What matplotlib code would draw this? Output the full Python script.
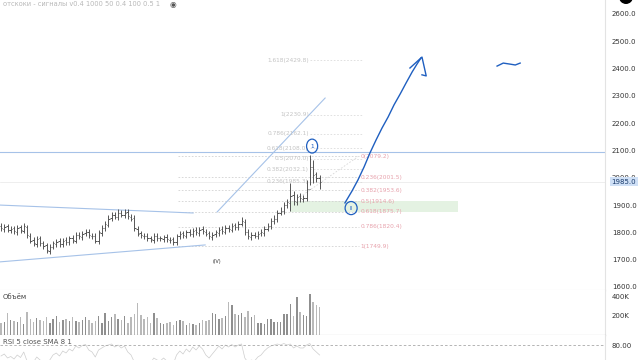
import matplotlib
matplotlib.use('Agg')
import matplotlib.pyplot as plt
import matplotlib.patches as mpatches
import numpy as np

# --- OHLC (bar index = position) ---
OPENS = [1825, 1812, 1822, 1808, 1815, 1802, 1818, 1806, 1820, 1788,
         1772, 1758, 1778, 1762, 1752, 1733, 1748, 1758, 1768, 1756,
         1772, 1763, 1780, 1770, 1792, 1783, 1797, 1802, 1788, 1787,
         1768, 1798, 1817, 1828, 1852, 1864, 1856, 1872, 1863, 1874,
         1858, 1852, 1813, 1797, 1788, 1787, 1778, 1773, 1787, 1778,
         1776, 1784, 1773, 1774, 1763, 1787, 1797, 1788, 1802, 1793,
         1807, 1798, 1812, 1803, 1797, 1783, 1794, 1798, 1812, 1803,
         1817, 1810, 1827, 1818, 1832, 1838, 1802, 1783, 1792, 1786,
         1797, 1798, 1814, 1823, 1842, 1848, 1872, 1878, 1902, 1908,
         1937, 1913, 1932, 1923, 1927, 1958, 2038, 2012, 1998]
HIGHS = [1835, 1830, 1832, 1822, 1824, 1826, 1828, 1834, 1828, 1798,
         1782, 1786, 1788, 1770, 1760, 1756, 1770, 1776, 1778, 1780,
         1782, 1788, 1790, 1800, 1802, 1806, 1812, 1812, 1798, 1796,
         1810, 1826, 1840, 1862, 1874, 1876, 1884, 1882, 1884, 1884,
         1868, 1862, 1824, 1806, 1798, 1796, 1788, 1796, 1796, 1788,
         1792, 1794, 1784, 1784, 1794, 1806, 1806, 1810, 1812, 1816,
         1818, 1820, 1822, 1812, 1806, 1802, 1810, 1820, 1822, 1826,
         1828, 1836, 1836, 1842, 1855, 1848, 1812, 1800, 1802, 1806,
         1812, 1822, 1836, 1852, 1862, 1882, 1892, 1912, 1922, 1980,
         1950, 1942, 1944, 1936, 1990, 2085, 2065, 2020, 2010]
LOWS = [1805, 1802, 1800, 1798, 1795, 1792, 1798, 1796, 1778, 1760,
        1750, 1748, 1750, 1738, 1725, 1722, 1738, 1748, 1748, 1746,
        1755, 1753, 1762, 1760, 1775, 1773, 1786, 1780, 1775, 1760,
        1758, 1788, 1806, 1818, 1842, 1848, 1846, 1855, 1853, 1850,
        1840, 1805, 1785, 1780, 1775, 1770, 1765, 1762, 1770, 1768,
        1766, 1765, 1762, 1755, 1752, 1777, 1780, 1778, 1785, 1783,
        1790, 1788, 1795, 1785, 1775, 1773, 1784, 1788, 1795, 1793,
        1802, 1800, 1810, 1808, 1822, 1790, 1775, 1773, 1778, 1776,
        1787, 1788, 1804, 1813, 1832, 1838, 1862, 1868, 1890, 1880,
        1900, 1902, 1912, 1910, 1915, 1975, 1980, 1985, 1960]
CLOSES = [1815, 1820, 1810, 1812, 1805, 1815, 1808, 1822, 1790, 1770,
          1760, 1775, 1760, 1750, 1735, 1745, 1760, 1765, 1758, 1770,
          1765, 1778, 1772, 1790, 1785, 1795, 1800, 1790, 1785, 1770,
          1800, 1815, 1830, 1850, 1862, 1858, 1870, 1865, 1872, 1860,
          1850, 1815, 1795, 1790, 1785, 1780, 1775, 1785, 1780, 1778,
          1782, 1775, 1772, 1765, 1785, 1795, 1790, 1800, 1795, 1805,
          1800, 1810, 1805, 1795, 1785, 1792, 1800, 1810, 1805, 1815,
          1812, 1825, 1820, 1830, 1840, 1800, 1785, 1790, 1788, 1795,
          1800, 1812, 1825, 1840, 1850, 1870, 1880, 1900, 1910, 1935,
          1915, 1930, 1925, 1925, 1960, 2040, 2010, 2000, 1985]

# volume, thousands
VOLUME_K = [125, 135, 230, 160, 150, 135, 190, 115, 240, 170,
            135, 180, 160, 150, 190, 125, 170, 200, 135, 160,
            170, 150, 190, 150, 135, 160, 190, 160, 125, 150,
            200, 125, 230, 150, 190, 220, 170, 160, 200, 125,
            190, 220, 330, 210, 170, 190, 125, 230, 180, 125,
            115, 125, 135, 105, 145, 155, 145, 105, 125, 115,
            105, 125, 155, 150, 155, 230, 220, 170, 180, 200,
            345, 310, 220, 210, 230, 190, 250, 190, 210, 125,
            125, 115, 170, 170, 135, 135, 135, 220, 220, 320,
            200, 400, 240, 210, 200, 430, 345, 310, 290]

RSI = [58, 62, 54, 57, 52, 60, 55, 66, 48, 44,
       46, 56, 50, 47, 42, 50, 60, 64, 58, 68,
       64, 72, 68, 78, 74, 79, 81, 70, 66, 56,
       70, 74, 78, 80, 82, 76, 80, 74, 78, 66,
       60, 46, 40, 42, 44, 46, 44, 54, 50, 48,
       54, 48, 46, 42, 60, 68, 62, 72, 66, 76,
       70, 78, 72, 60, 54, 62, 70, 78, 72, 80,
       76, 81, 76, 80, 82, 54, 45, 50, 48, 56,
       60, 68, 74, 78, 80, 82, 80, 83, 80, 82,
       74, 78, 74, 74, 80, 83, 72, 66, 60]

PRICE_TICKS = [1600, 1700, 1800, 1900, 2000, 2100, 2200, 2300, 2400, 2500, 2600]
LAST_PRICE = 1985.0
BLUE_LEVEL = 2094

# fibonacci: extension (grey) and retracement (pink)
FIB_EXT_RATIOS = ['1.618', '1', '0.786', '0.618', '0.5', '0.382', '0.236']
FIB_EXT_PRICES = [2429.8, 2230.9, 2162.1, 2108.0, 2070.0, 2032.1, 1985.3]
FIB_RET_RATIOS = ['0', '0.236', '0.382', '0.5', '0.618', '0.786', '1']
FIB_RET_PRICES = [2079.2, 2001.5, 1953.6, 1914.6, 1875.7, 1820.4, 1749.9]

# drawings, (bar, price)
TREND_UPPER = [(-0.3, 1900), (59.1, 1871)]
TREND_LOWER = [(-0.3, 1692), (62.8, 1754)]
TREND_DIAG = [(66.5, 1875), (99.7, 2292)]
FIB_DIAG = [(92, 1930), (110, 2079)]
ARROW_PATH = [(105.8, 1908), (108.0, 1952), (109.8, 1992), (111.7, 2040),
              (113.5, 2091), (115.4, 2139), (117.2, 2182), (119.1, 2223),
              (120.9, 2267), (122.8, 2307), (124.6, 2347), (126.5, 2388),
              (128.0, 2417), (129.2, 2439)]
ARROW_HEAD = [(125.8, 2402), (129.5, 2442), (130.8, 2373), (129.5, 2377)]
SQUIGGLE = [(152.6, 2409), (154.5, 2420), (156.7, 2416), (158.2, 2413), (159.7, 2420)]

BAR_C = '#555555'
DRAW_BLUE = '#1f5fc0'
LINE_BLUE = '#a6c2e8'

W, H = 640, 360
fig = plt.figure(figsize=(6.4, 3.6), dpi=100, facecolor='white')
ax_p = fig.add_axes([0, 70 / H, 605 / W, 290 / H])
ax_v = fig.add_axes([0, 25 / H, 605 / W, 45 / H])
ax_r = fig.add_axes([0, 0, 605 / W, 25 / H])

n = len(CLOSES)
x = np.arange(n)
XLIM = (-0.31, 185.8)

for ax in (ax_p, ax_v, ax_r):
    ax.set_xlim(*XLIM)
    ax.set_xticks([])
    ax.yaxis.tick_right()
    ax.tick_params(axis='y', length=0, pad=5, labelsize=5.0, labelcolor='#333333')
    for s in ('left', 'top'):
        ax.spines[s].set_visible(False)
    ax.spines['right'].set_color('#e3e3e3')
    ax.spines['right'].set_linewidth(0.8)
    ax.spines['bottom'].set_color('#e3e3e3')
    ax.spines['bottom'].set_linewidth(0.8)
ax_v.spines['bottom'].set_color('#9a9a9a')
ax_r.spines['bottom'].set_visible(False)

# ─── price panel ──────────────────────────────
ax_p.set_ylim(1589, 2651)
ax_p.set_yticks(PRICE_TICKS)
ax_p.set_yticklabels([f'{t:.1f}' for t in PRICE_TICKS])

ax_p.axhline(BLUE_LEVEL, color=LINE_BLUE, lw=0.8, zorder=2)
ax_p.axhline(LAST_PRICE, color='#e8e8e8', lw=0.5, zorder=1)

# fib retracement
ret_x0, ret_x1 = 54.5, 110.0
ax_p.hlines(FIB_RET_PRICES, ret_x0, ret_x1, colors='#d2d2d2', lw=0.6,
            linestyles=(0, (2, 2)), zorder=1)
for r, p in zip(FIB_RET_RATIOS, FIB_RET_PRICES):
    ax_p.text(ret_x1 + 0.6, p, f'{r}({p:.1f})', fontsize=4.2, color='#e7a2ac',
              va='center', ha='left', zorder=3)
ax_p.add_patch(mpatches.Rectangle((89, FIB_RET_PRICES[4]), 51.6,
                                  FIB_RET_PRICES[3] - FIB_RET_PRICES[4],
                                  facecolor='#e4f2e2', edgecolor='none', zorder=0))

# fib extension
ext_x0, ext_x1 = 95.0, 111.0
ax_p.hlines(FIB_EXT_PRICES, ext_x0, ext_x1, colors='#dcdcdc', lw=0.6,
            linestyles=(0, (2, 2)), zorder=1)
for r, p in zip(FIB_EXT_RATIOS, FIB_EXT_PRICES):
    ax_p.text(ext_x0 - 0.3, p, f'{r}({p:.1f})', fontsize=4.2, color='#c4c4c4',
              va='center', ha='right', zorder=3)

# trend lines
for line in (TREND_UPPER, TREND_LOWER, TREND_DIAG):
    (xa, ya), (xb, yb) = line
    ax_p.plot([xa, xb], [ya, yb], color=LINE_BLUE, lw=0.8, zorder=2)
(xa, ya), (xb, yb) = FIB_DIAG
ax_p.plot([xa, xb], [ya, yb], color='#d8d8d8', lw=0.6, ls=(0, (2, 2)), zorder=1)

# OHLC bars
ax_p.vlines(x, LOWS, HIGHS, color=BAR_C, lw=0.7, zorder=4)
ax_p.hlines(OPENS, x - 0.4, x, color=BAR_C, lw=0.7, zorder=4)
ax_p.hlines(CLOSES, x, x + 0.4, color=BAR_C, lw=0.7, zorder=4)

ax_p.text(66.5, 1695, '(IV)', fontsize=3.6, color='#333333', ha='center', va='center')

# hand drawings
ax_p.plot(*zip(*ARROW_PATH), color=DRAW_BLUE, lw=1.0, zorder=6)
ax_p.plot(*zip(*ARROW_HEAD), color=DRAW_BLUE, lw=1.0, zorder=6)
ax_p.plot(*zip(*SQUIGGLE), color=DRAW_BLUE, lw=1.0, zorder=6)
ax_p.add_patch(mpatches.Ellipse((95.7, 2116), 3.4, 51, fill=False,
                                edgecolor=DRAW_BLUE, lw=0.9, zorder=6))
ax_p.text(95.7, 2116, '1', fontsize=4.2, color=DRAW_BLUE, ha='center', va='center', zorder=6)
ax_p.add_patch(mpatches.Ellipse((107.7, 1889), 3.7, 48, fill=False,
                                edgecolor=DRAW_BLUE, lw=0.9, zorder=6))
ax_p.text(107.7, 1889, 'II', fontsize=3.6, color=DRAW_BLUE, ha='center', va='center', zorder=6)

# last price badge
ax_p.text(1.011, LAST_PRICE, f'{LAST_PRICE:.1f}', transform=ax_p.get_yaxis_transform(),
          fontsize=5.0, color='#1a3b6b', ha='left', va='center', zorder=10, clip_on=False,
          bbox=dict(boxstyle='square,pad=0.2', facecolor='#cfe0f6', edgecolor='none'))

# ─── volume panel ─────────────────────────────
up = [c >= o for o, c in zip(OPENS, CLOSES)]
vol = np.array(VOLUME_K) * 1000
ax_v.bar(x, vol, width=0.45, color=['#8f8f8f' if u else '#b9b9b9' for u in up], zorder=2)
ax_v.set_ylim(0, 470000)
ax_v.set_yticks([200000, 400000])
ax_v.set_yticklabels(['200K', '400K'])
ax_v.text(0.005, 0.84, 'Объём', transform=ax_v.transAxes, fontsize=5,
          color='#444444', va='center')

# ─── RSI panel ────────────────────────────────
ax_r.set_ylim(50, 100)
ax_r.plot(x, RSI, color='#cdcdcd', lw=0.5)
ax_r.axhline(80, color='#a8a8a8', lw=0.6, ls=(0, (3, 2.5)))
ax_r.set_yticks([80])
ax_r.set_yticklabels(['80.00'])
ax_r.text(0.005, 0.7, 'RSI 5 close SMA 8 1', transform=ax_r.transAxes, fontsize=5,
          color='#555555', va='center')

# header
fig.text(3 / W, 1 - 4 / H, 'отскоки - сигналы v0.4 1000 50 0.4 100 0.5 1',
         fontsize=4.8, color='#b8b8b8', va='center', ha='left')
fig.text(173 / W, 1 - 4 / H, '◉', fontsize=5.5, color='#555555', va='center', ha='center')
fig.patches.append(mpatches.Ellipse((626 / W, 1 + 3 / H), 14 / W, 14 / H,
                                    transform=fig.transFigure, facecolor='black',
                                    edgecolor='none'))

fig.savefig('out.png', dpi=100, facecolor='white')
